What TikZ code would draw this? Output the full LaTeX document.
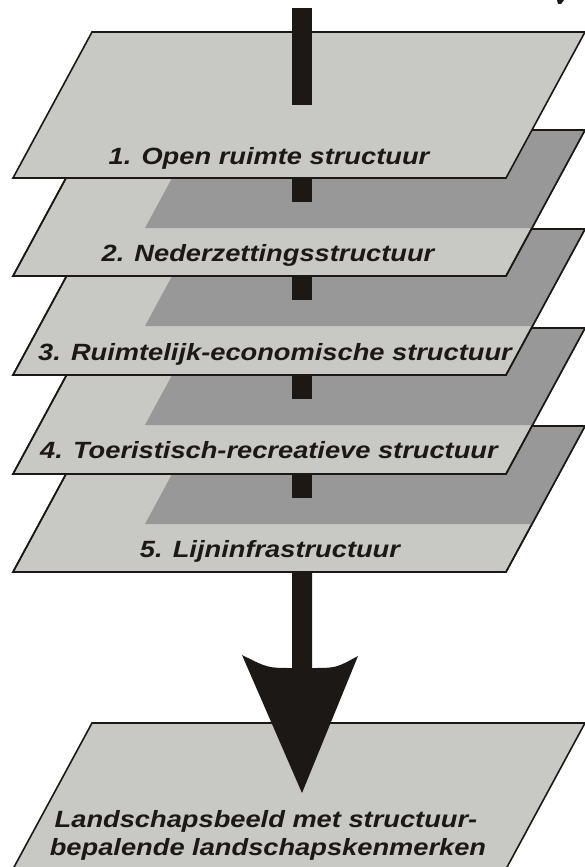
\documentclass[tikz,border=0pt]{standalone}
\usepackage{fontspec}
\usepackage{graphicx}
\newfontfamily\labfont{Liberation Sans}
\definecolor{planefill}{RGB}{200,200,196}
\definecolor{shadefill}{RGB}{152,152,152}
\definecolor{inkc}{RGB}{28,24,22}
\newcommand\planepath[1]{(13,#1) -- (506,#1) -- (585,#1-146) -- (92,#1-146) -- cycle}
\newcommand\lbl[1]{\scalebox{1.16}[1]{#1}}
\tikzset{
  planestyle/.style={fill=planefill, draw=inkc, line width=1.6pt, line join=miter},
  shadestyle/.style={fill=shadefill},
  barstyle/.style={fill=inkc},
  labelstyle/.style={anchor=base, inner sep=0pt, text=inkc,
    font=\labfont\bfseries\itshape\fontsize{23.5}{28}\selectfont}
}
\begin{document}
\begin{tikzpicture}[x=1pt,y=-1pt]
\useasboundingbox (0,0) rectangle (584,867);
\fill[white] (0,0) rectangle (584,867);
% small fragment at top right
\fill[inkc] (557,0) -- (564,0) -- (561,4) -- (558,4) -- cycle;
% final plane
\path[planestyle] \planepath{869};
% planes 5 .. 2 with shadows of the plane above
\foreach \b/\p in {572/474, 474/375, 375/276, 276/178}{
  \path[planestyle] \planepath{\b};
  \begin{scope}
    \clip \planepath{\b};
    \fill[shadestyle, shift={(132,50)}] \planepath{\p};
  \end{scope}
  \draw[draw=inkc, line width=1.6pt, line join=miter] \planepath{\b};
  \fill[barstyle] (292,\p) rectangle (312,\p+24);
}
% plane 1
\path[planestyle] \planepath{178};
\fill[barstyle] (292,8) rectangle (312,105);
% labels
\node[labelstyle] (t1) at (269,164) {\lbl{1. Open ruimte structuur}};
\node[labelstyle] (t2) at (268,261) {\lbl{2. Nederzettingsstructuur}};
\node[labelstyle] (t3) at (275,360) {\lbl{3. Ruimtelijk-economische structuur}};
\node[labelstyle] (t4) at (269,458) {\lbl{4. Toeristisch-recreatieve structuur}};
\node[labelstyle] (t5) at (270,557) {\lbl{5. Lijninfrastructuur}};
\node[labelstyle] (l1) at (266,827) {\lbl{Landschapsbeeld met structuur-}};
\node[labelstyle] (l2) at (268,855) {\lbl{bepalende landschapskenmerken}};
% big arrow
\fill[inkc] (292,572) -- (292,668) .. controls (268,668) .. (242,655)
  -- (302,793) -- (358,656) .. controls (336,668) .. (312,668) -- (312,572) -- cycle;
\end{tikzpicture}
\end{document}
